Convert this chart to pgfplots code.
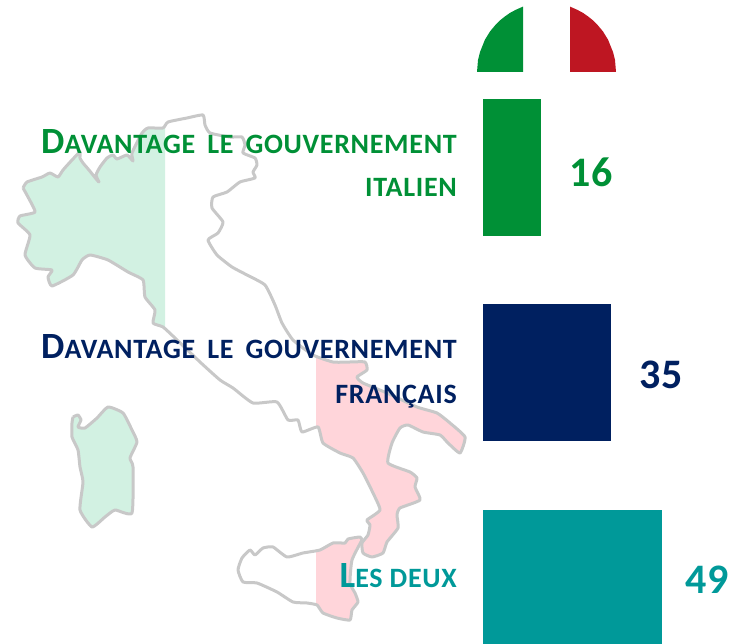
\documentclass[border=0pt]{standalone}
\usepackage{fontspec}
\setmainfont{Carlito}[LetterSpace=2.5]
\usepackage{pgfplots}
\usepackage{pgfplotstable}
\pgfplotsset{compat=1.18}

\definecolor{itgreen}{HTML}{009036}
\definecolor{frnavy}{HTML}{002060}
\definecolor{bothteal}{HTML}{009999}
\definecolor{itred}{HTML}{BE1622}
\definecolor{mapgreen}{HTML}{D2F1E2}
\definecolor{mappink}{HTML}{FFD5DA}
\definecolor{mapgrey}{HTML}{C8C8C8}

% map outlines, in pixels of the reference
\pgfplotstableread{
x y
23 188
27 182
42 177
50 173
58 177
63 170
72 160
80 152
80 158
83 163
89 170
97 180
99 182
96 175
100 167
107 158
113 155
117 159
127 155
133 161
132 153
142 133
148 128
163 128
168 122
187 118
203 115
205 125
210 133
230 137
242 137
245 145
243 153
255 158
257 165
253 172
255 178
240 182
227 192
213 197
212 208
223 222
218 233
208 240
217 255
232 267
247 275
265 285
275 305
282 323
293 340
313 355
333 362
350 362
365 362
367 370
357 377
363 383
387 393
417 407
437 413
450 423
465 437
460 453
448 443
440 435
423 432
408 425
400 428
392 443
388 463
410 472
417 478
415 487
420 500
400 508
397 515
398 528
387 542
383 553
372 557
363 553
362 543
368 535
370 525
367 520
380 510
373 493
363 473
353 458
340 453
323 443
318 427
302 432
298 420
288 420
277 402
253 403
233 388
220 380
200 362
175 338
163 327
153 323
155 310
145 297
143 280
128 272
108 260
90 255
82 260
73 275
52 286
48 277
52 270
35 268
25 255
30 235
18 223
20 216
35 212
28 197
23 188
}\mainland

\pgfplotstableread{
x y
362 540
352 560
350 583
355 593
358 602
352 610
350 620
337 618
323 613
317 605
307 603
293 602
277 592
257 583
243 582
238 570
242 558
250 550
255 555
263 548
273 547
287 557
303 553
320 550
333 543
345 543
348 539
360 537
362 540
}\sicily

\pgfplotstableread{
x y
73 417
78 415
81 420
78 427
85 428
97 418
108 407
123 413
132 430
137 442
130 458
133 467
132 513
115 510
105 517
92 527
80 510
83 482
80 467
78 450
72 437
72 423
73 417
}\sardinia

\newcommand{\capsize}[1]{{\fontsize{37}{37}\selectfont #1}}

\pgfplotsset{
  mapaxis/.style={
    hide axis, scale only axis, y dir=reverse,
    ymin=0, ymax=644, height=644pt,
    anchor=south west,
  },
  coast/.style={smooth, tension=0.3},
}

\begin{document}
\begin{tikzpicture}
\path[use as bounding box] (0pt,0pt) rectangle (732pt,644pt);
% northern fill
\begin{axis}[mapaxis, at={(0pt,0pt)}, width=165pt, xmin=0, xmax=165]
\addplot[coast, fill=mapgreen, draw=none] table {\mainland};
\addplot[coast, fill=mapgreen, draw=none] table {\sardinia};
\end{axis}
% southern fill
\begin{axis}[mapaxis, at={(316pt,0pt)}, width=416pt, xmin=316, xmax=732]
\addplot[coast, fill=mappink, draw=none] table {\mainland};
\addplot[coast, fill=mappink, draw=none] table {\sicily};
\end{axis}
% outlines, flag and labels
\begin{axis}[mapaxis, at={(0pt,0pt)}, width=732pt, xmin=0, xmax=732]
\addplot[coast, mapgrey, line width=3pt, line join=round, mark=none] table {\mainland};
\addplot[coast, mapgrey, line width=3pt, line join=round, mark=none] table {\sicily};
\addplot[coast, mapgrey, line width=3pt, line join=round, mark=none] table {\sardinia};
\addplot[fill=itgreen, draw=none] coordinates {
  (477,72) (478,60) (480,52) (485,39.6) (490,31.5) (495,25.5) (500,20.4)
  (505,16.4) (510,12.9) (516,9.7) (523,6.6) (523,72)} --cycle;
\addplot[fill=itred, draw=none] coordinates {
  (570,72) (570,6.6) (577,9.7) (583,12.9) (588,16.4) (593,20.4) (598,25.5)
  (603,31.5) (608,39.6) (613,52) (615,60) (616,72)} --cycle;
\begin{scope}[every node/.style={anchor=base east, inner sep=0pt, font=\fontsize{28}{28}\selectfont\bfseries}]
\node[text=itgreen] at (axis cs:457,154) {\capsize{D}AVANTAGE\kern5pt{} LE\kern5pt{} GOUVERNEMENT};
\node[text=itgreen] at (axis cs:457,197) {ITALIEN};
\node[text=frnavy] at (axis cs:457,359) {\capsize{D}AVANTAGE\kern5pt{} LE\kern5pt{} GOUVERNEMENT};
\node[text=frnavy] at (axis cs:457,403.5) {FRANÇAIS};
\node[text=bothteal] at (axis cs:457,588) {\capsize{L}ES DEUX};
\end{scope}
\end{axis}
% bars
\begin{axis}[
    at={(0pt,0pt)}, anchor=south west,
    xbar, hide axis, scale only axis,
    width=732pt, height=644pt,
    xmin=-132.15, xmax=68.13,
    y dir=reverse, ymin=-0.815, ymax=2.319,
    bar width=137pt, bar shift=0pt,
    nodes near coords,
    point meta=x,
    /pgf/number format/assume math mode=true,
    nodes near coords style={font=\fontsize{42}{42}\selectfont\bfseries, anchor=west, inner sep=0pt, xshift=28pt},
]
\addplot[fill=itgreen, draw=none, every node near coord/.append style={text=itgreen, yshift=-5pt}] coordinates {(16,0)};
\addplot[fill=frnavy, draw=none, every node near coord/.append style={text=frnavy, yshift=-2pt}] coordinates {(35,1)};
\addplot[fill=bothteal, draw=none, every node near coord/.append style={text=bothteal, xshift=-5pt, yshift=-1pt}] coordinates {(49,2)};
\end{axis}
\end{tikzpicture}
\end{document}
